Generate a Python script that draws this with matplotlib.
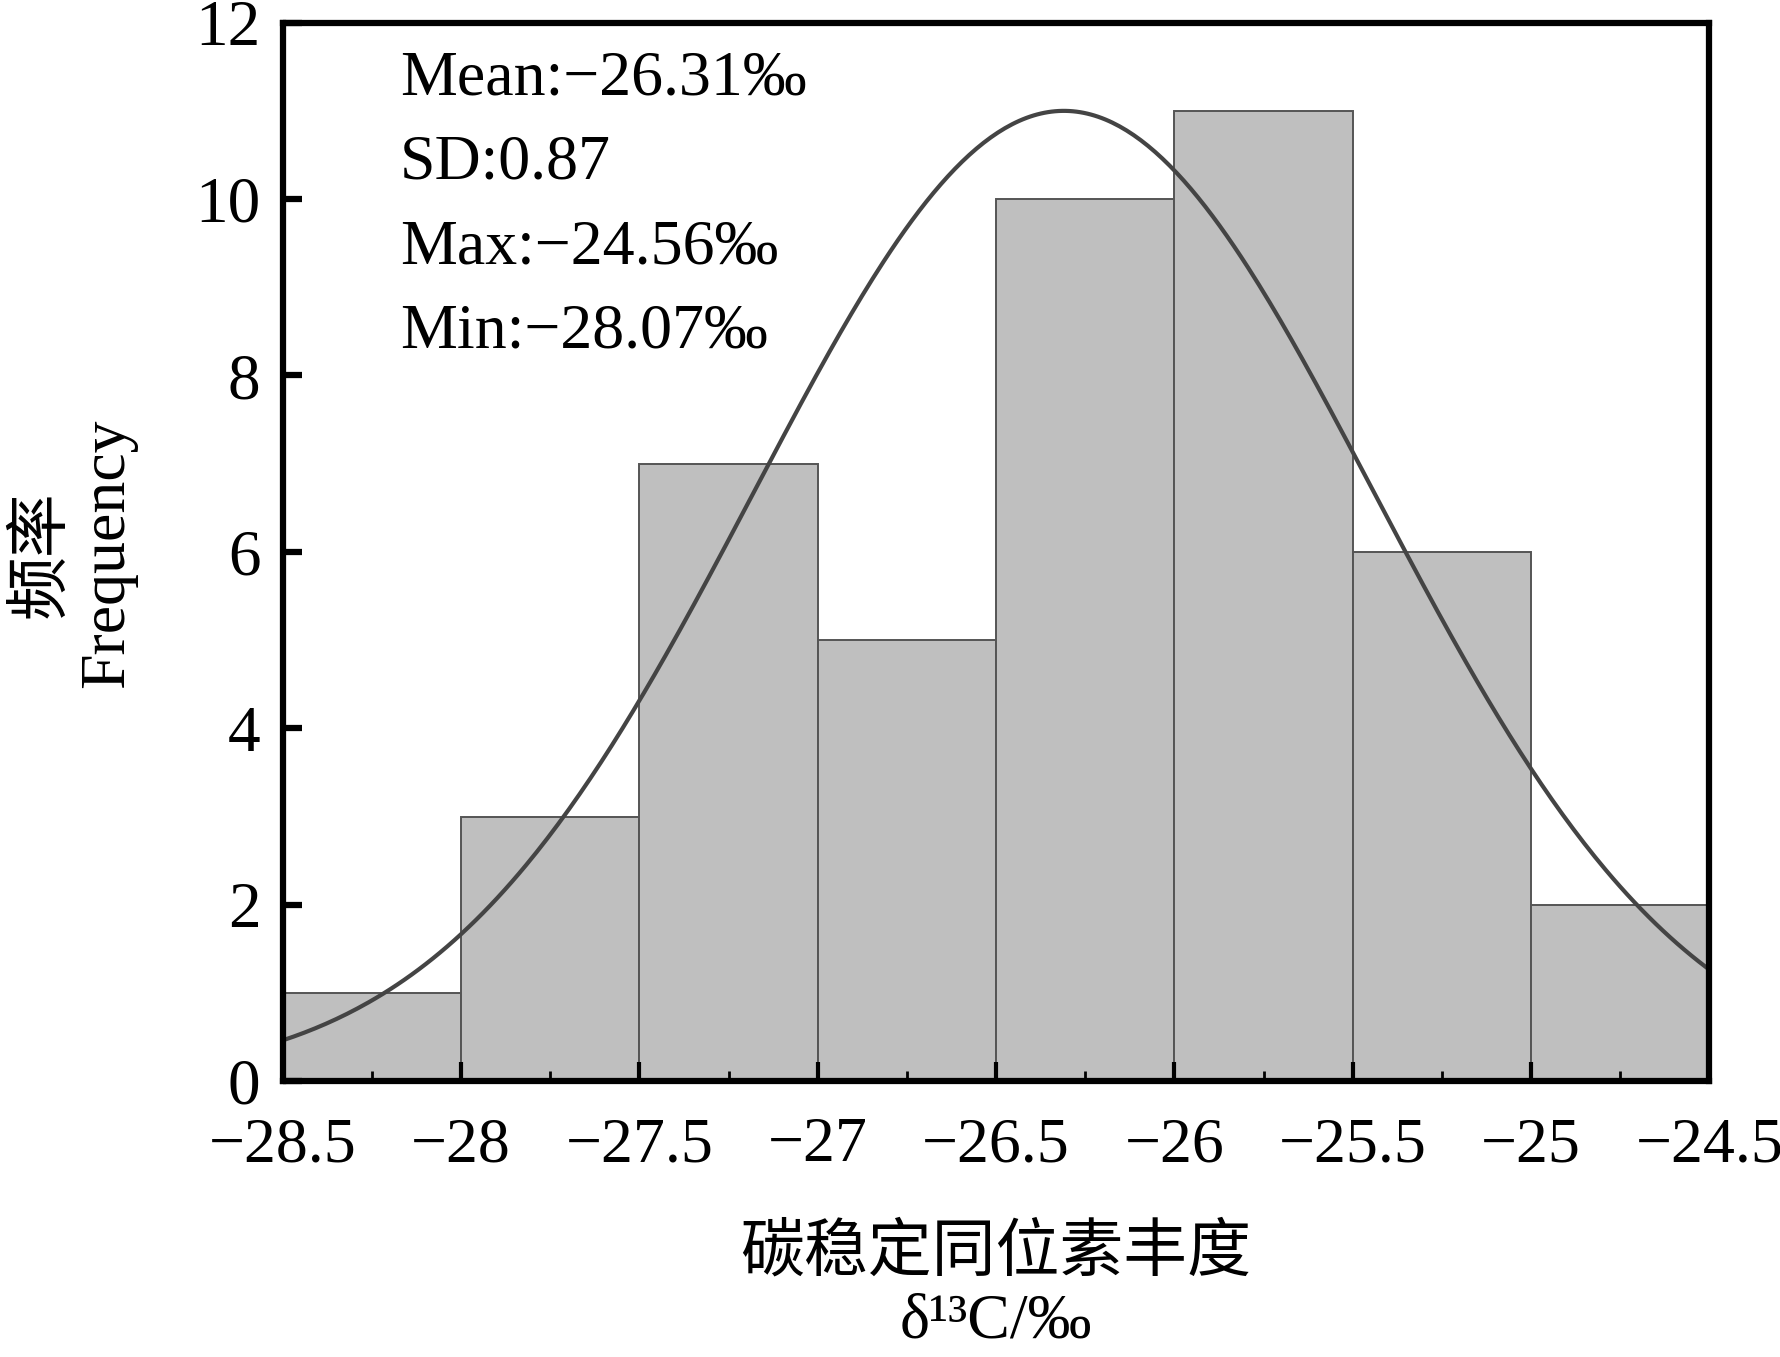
import numpy as np
import matplotlib.pyplot as plt
from matplotlib.ticker import MultipleLocator

# Data: histogram of d13C values (bin edges and counts)
bin_edges = [-28.5, -28.0, -27.5, -27.0, -26.5, -26.0, -25.5, -25.0, -24.5]
counts = [1, 3, 7, 5, 10, 11, 6, 2]
mean_val = -26.31
sd_val = 0.87
curve_peak = 11.0
stats_lines = ["Mean:\u221226.31\u2030", "SD:0.87", "Max:\u221224.56\u2030", "Min:\u221228.07\u2030"]
x_ticks = [-28.5, -28, -27.5, -27, -26.5, -26, -25.5, -25, -24.5]
x_tick_labels = ["\u221228.5", "\u221228", "\u221227.5", "\u221227", "\u221226.5",
                 "\u221226", "\u221225.5", "\u221225", "\u221224.5"]
y_ticks = [0, 2, 4, 6, 8, 10, 12]

plt.rcParams['font.family'] = ['Liberation Serif', 'Noto Sans CJK SC', 'DejaVu Sans']

fig = plt.figure(figsize=(17.81, 13.57), dpi=100)
ax = fig.add_axes([0.1588, 0.2033, 0.801, 0.78])

# bars
lefts = np.array(bin_edges[:-1])
widths = np.diff(bin_edges)
ax.bar(lefts, counts, width=widths, align='edge', color='#bfbfbf',
       edgecolor='#555555', linewidth=1.4, zorder=1)

# fitted normal curve
xs = np.linspace(bin_edges[0], bin_edges[-1], 400)
ys = curve_peak * np.exp(-0.5 * ((xs - mean_val) / sd_val) ** 2)
ax.plot(xs, ys, color='#444444', linewidth=3.0, zorder=2)

ax.set_xlim(-28.5, -24.5)
ax.set_ylim(0, 12)
ax.set_xticks(x_ticks)
ax.set_xticklabels(x_tick_labels)
ax.set_yticks(y_ticks)
ax.xaxis.set_minor_locator(MultipleLocator(0.25))

for sp in ax.spines.values():
    sp.set_linewidth(4.5)
    sp.set_zorder(5)

ax.tick_params(axis='x', which='major', direction='in', length=14, width=3,
               labelsize=46, pad=26, top=False)
ax.tick_params(axis='x', which='minor', direction='in', length=7, width=2, top=False)
ax.tick_params(axis='y', which='major', direction='in', length=14, width=4.5,
               labelsize=47, pad=16, right=False)

# statistics text
for i, line in enumerate(stats_lines):
    ax.text(0.082, 0.946 - i * 0.0795, line, transform=ax.transAxes,
            fontsize=46, ha='left', va='center')

# axis labels
fig.text(0.042, 0.592, "频率\nFrequency", rotation=90, ha='center', va='center',
         multialignment='center', fontsize=46, linespacing=1.15)
fig.text(0.559, 1 - 1105 / 1195, "碳稳定同位素丰度", ha='center', va='center', fontsize=46)
fig.text(0.559, 1 - 1165 / 1195, "\u03b4\u00b9\u00b3C/\u2030", ha='center', va='center', fontsize=46)

fig.savefig("out.png", dpi=100)
